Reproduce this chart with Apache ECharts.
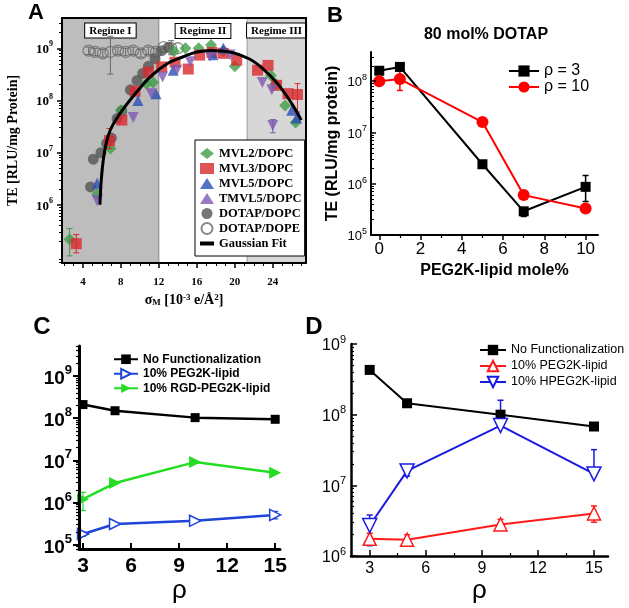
<!DOCTYPE html>
<html><head><meta charset="utf-8">
<script src="https://cdn.jsdelivr.net/npm/echarts@6/dist/echarts.min.js"></script>
<style>html,body{margin:0;padding:0;background:#fff}#c{width:629px;height:608px}</style>
</head><body><div id="c"></div>
<script>
// ---------------- Panel A data ----------------
const aXTicks = [4, 8, 12, 16, 20, 24];
const aXMinor = [2,3,5,6,7,9,10,11,13,14,15,17,18,19,21,22,23,25,26,27];
const aYTicks = [1e6, 1e7, 1e8, 1e9];
const aDecades = [4, 5, 6, 7, 8, 9];
const aRegimes = ['Regime I', 'Regime II', 'Regime III'];
const aRegimeEdges = [1.8, 12, 21.3, 27.5];

const mvl2X = [2.6, 5.5, 6.9, 8.0, 10.7, 11.4, 13.6, 14.8, 16.2, 17.5, 18.8, 20.0, 23.8, 24.3, 25.3, 26.4];
const mvl2Y = [2.2e5, 1.6e6, 1.2e7, 6.5e7, 2.1e8, 2.2e8, 8.8e8, 1.0e9, 1.0e9, 1.15e9, 9.0e8, 4.5e8, 3.0e8, 2.1e8, 8.0e7, 3.8e7];
const mvl3X = [3.3, 6.8, 8.1, 9.5, 10.9, 12.3, 13.7, 15.1, 16.3, 17.6, 18.8, 20.2, 22.4, 23.5, 24.4, 25.6, 26.6];
const mvl3Y = [1.8e5, 1.7e7, 4.2e7, 1.5e8, 3.5e8, 4.4e8, 5.4e8, 4.0e8, 7.4e8, 8.3e8, 8.0e8, 5.9e8, 3.8e8, 4.7e8, 1.95e8, 1.35e8, 1.3e8];
const mvl5X = [5.5, 9.8, 11.7, 13.5, 17.7, 18.8, 26.0, 26.5];
const mvl5Y = [2.6e6, 1.0e8, 1.35e8, 3.8e8, 7.5e8, 1.0e9, 6.5e7, 4.6e7];
const tmvl5X = [5.5, 9.3, 11.2, 12.4, 13.9, 15.3, 17.4, 19.5, 22.9, 23.9, 24.0];
const tmvl5Y = [1.2e6, 4.7e7, 1.35e8, 2.8e8, 3.8e8, 5.5e8, 7.0e8, 7.4e8, 2.2e8, 1.6e8, 3.3e7];
const dopcX = [4.8, 5.1, 5.9, 6.5, 7.0, 7.6, 8.1, 9.0, 9.7, 10.3, 10.9, 11.6, 12.3, 13.0];
const dopcY = [2.2e6, 7.5e6, 1.0e7, 1.5e7, 1.9e7, 4.5e7, 6.3e7, 1.6e8, 2.4e8, 3.3e8, 4.5e8, 6.3e8, 9.0e8, 1.05e9];
const dopeX = [4.6, 5.3, 6.1, 6.9, 7.7, 8.5, 9.3, 10.1, 10.9, 11.7, 12.5, 13.3, 14.0];
const dopeY = [9.0e8, 8.5e8, 8.0e8, 8.5e8, 9.0e8, 8.5e8, 9.0e8, 8.0e8, 9.0e8, 8.5e8, 1.05e9, 1.0e9, 1.0e9];
const fitX = [5.8, 5.95, 6.3, 6.85, 7.9, 9.6, 11.2, 13.0, 14.5, 16.0, 17.5, 19.5, 21.5, 23.0, 24.5, 26.0, 27.0];
const fitY = [1.0e6, 3.2e6, 1.1e7, 2.6e7, 5.6e7, 1.4e8, 2.95e8, 5.2e8, 6.8e8, 8.5e8, 9.1e8, 8.5e8, 6.3e8, 4.0e8, 2.1e8, 8.7e7, 4.2e7];
const aErrMvl2 = [[2.6, 1.05e5, 3.5e5]];
const aErrMvl3 = [[3.3, 1.2e5, 2.7e5], [6.8, 1.2e7, 2.9e7], [26.6, 6.0e7, 2.1e8]];
const aErrTmvl5 = [[24.0, 2.4e7, 4.3e7]];
const aErrDope = [[4.6, 7.6e8, 1.05e9], [5.3, 7.2e8, 1.0e9], [6.1, 6.8e8, 9.5e8], [6.9, 3.2e8, 1.7e9], [7.7, 7.6e8, 1.05e9], [8.5, 7.2e8, 1.0e9], [9.3, 7.6e8, 1.05e9], [10.1, 6.8e8, 9.5e8], [10.9, 7.6e8, 1.05e9], [11.7, 7.2e8, 1.0e9], [13.3, 7.5e8, 1.4e9]];

// ---------------- Panel B data ----------------
const bTitle = '80 mol% DOTAP';
const bXTicks = [0, 2, 4, 6, 8, 10];
const bXMinor = [1, 3, 5, 7, 9];
const bYTicks = [1e5, 1e6, 1e7, 1e8];
const bDecades = [5, 6, 7, 8];
const bX = [0, 1, 5, 7, 10];
const bRho3 = [1.6e8, 1.9e8, 2.4e6, 2.9e5, 8.7e5];
const bRho10 = [1.0e8, 1.1e8, 1.6e7, 6.0e5, 3.3e5];
const bErrRho3 = [[5, 2.1e6, 2.8e6], [7, 2.3e5, 3.4e5], [10, 4.5e5, 1.45e6]];
const bErrRho10 = [[1, 6.6e7, 1.6e8], [10, 2.9e5, 3.7e5]];

// ---------------- Panel C data ----------------
const cXTicks = [3, 6, 9, 12, 15];
const cYTicks = [1e5, 1e6, 1e7, 1e8, 1e9];
const cDecades = [4, 5, 6, 7, 8, 9];
const cX = [3, 5, 10, 15];
const cNoFunc = [2.1e8, 1.5e8, 1.03e8, 9.4e7];
const cPeg = [1.8e5, 3.1e5, 3.7e5, 5.1e5];
const cRgd = [1.2e6, 2.9e6, 9.1e6, 5.1e6];
const cErrPeg = [[3, 1.6e5, 2.0e5], [15, 4.1e5, 6.2e5]];
const cErrRgd = [[3, 6.5e5, 1.75e6]];

// ---------------- Panel D data ----------------
const dXTicks = [3, 6, 9, 12, 15];
const dXMinor = [4.5, 7.5, 10.5, 13.5];
const dYTicks = [1e6, 1e7, 1e8, 1e9];
const dDecades = [6, 7, 8];
const dX = [3, 5, 10, 15];
const dNoFunc = [4.3e8, 1.45e8, 1.0e8, 6.8e7];
const dPeg = [1.75e6, 1.7e6, 2.8e6, 4.0e6];
const dHpeg = [2.7e6, 1.6e7, 7.0e7, 1.45e7];
const dErrNoFunc = [[15, 6.2e7, 7.6e7]];
const dErrPeg = [[3, 1.45e6, 2.1e6], [5, 1.45e6, 2.0e6], [10, 2.4e6, 3.3e6], [15, 3.0e6, 5.1e6]];
const dErrHpeg = [[3, 1.4e6, 3.8e6], [5, 1.35e7, 1.9e7], [10, 7.0e7, 1.6e8], [15, 1.45e7, 3.2e7]];

// ---------------- helpers ----------------
const SANS = '"Liberation Sans", Arial, sans-serif';
const SERIF = '"Liberation Serif", "Times New Roman", serif';
const zip = (xs, ys) => xs.map((x, i) => [x, ys[i]]);
function logMinor(decades) {
  const out = [];
  decades.forEach(e => { for (let k = 2; k <= 9; k++) out.push(k * Math.pow(10, e)); });
  return out;
}
function powLabel(fs, ss, lh, weight, family, margin, ticks) {
  return {
    customValues: ticks, margin: margin,
    formatter: v => '{b|10}{s|' + Math.round(Math.log10(v)) + '}',
    fontSize: fs, fontWeight: weight, fontFamily: family, color: '#000',
    rich: {
      b: { fontSize: fs, fontWeight: weight, fontFamily: family, color: '#000', lineHeight: lh, verticalAlign: 'bottom' },
      s: { fontSize: ss, fontWeight: weight, fontFamily: family, color: '#000', lineHeight: ss, verticalAlign: 'top' }
    }
  };
}
function errBar(cap, lw) {
  return function (params, api) {
    const x = api.value(0);
    const lo = api.coord([x, api.value(1)]);
    const hi = api.coord([x, api.value(2)]);
    const st = { stroke: api.visual('color'), lineWidth: lw, fill: null };
    return { type: 'group', children: [
      { type: 'line', shape: { x1: lo[0], y1: lo[1], x2: hi[0], y2: hi[1] }, style: st },
      { type: 'line', shape: { x1: lo[0] - cap, y1: lo[1], x2: lo[0] + cap, y2: lo[1] }, style: st },
      { type: 'line', shape: { x1: hi[0] - cap, y1: hi[1], x2: hi[0] + cap, y2: hi[1] }, style: st }
    ] };
  };
}
function errSeries(name, data, color, xi, yi, cap, lw, z) {
  return { name: name, type: 'custom', xAxisIndex: xi, yAxisIndex: yi, data: data,
    encode: { x: 0, y: [1, 2] }, itemStyle: { color: color }, renderItem: errBar(cap, lw), z: z || 3, silent: true };
}
const noSplit = { show: false };
const blackLine = w => ({ show: true, onZero: false, lineStyle: { color: '#000', width: w } });
function tickAxis(gi, type, min, max, pos, vals, len, inside, w) {
  return { gridIndex: gi, type: type, min: min, max: max, position: pos, z: 10,
    axisLine: { show: false, onZero: false }, splitLine: noSplit, axisLabel: { show: false },
    axisTick: { show: true, customValues: vals, length: len, inside: inside, lineStyle: { color: '#000', width: w } } };
}
function frameAxis(gi, pos, w) {
  return { gridIndex: gi, type: 'value', min: 0, max: 1, position: pos, z: 10, axisLine: blackLine(w),
    axisTick: { show: false }, axisLabel: { show: false }, splitLine: noSplit };
}

const aColors = { mvl2: '#3f9c46', mvl3: '#d8282d', mvl5: '#2c4fb6', tmvl5: '#7d59b3', dopc: '#555555', dope: '#6a6a6a' };
const aYMin = Math.pow(10, 4.885), aYMax = Math.pow(10, 9.58);

const option = {
  animation: false,
  backgroundColor: '#fff',
  grid: [
    { left: 62, top: 18, width: 244, height: 245 },
    { left: 371, top: 52, width: 227, height: 183 },
    { left: 79, top: 346, width: 201, height: 203 },
    { left: 351, top: 344, width: 257, height: 212 }
  ],
  xAxis: [
    // A
    { gridIndex: 0, type: 'value', min: 1.8, max: 27.5, position: 'bottom', z: 10, axisLine: blackLine(2), splitLine: noSplit,
      axisTick: { show: true, customValues: aXTicks, length: 5, lineStyle: { color: '#000', width: 1.5 } },
      axisLabel: { customValues: aXTicks, margin: 14, fontFamily: SERIF, fontWeight: 'bold', fontSize: 11, color: '#000' },
      name: 'σ{sub|M} [10{sup|-3} e/Å{sup|2}]', nameLocation: 'middle', nameGap: 30,
      nameTextStyle: { fontFamily: SERIF, fontWeight: 'bold', fontSize: 14, color: '#000',
        rich: { sub: { fontFamily: SERIF, fontWeight: 'bold', fontSize: 9, verticalAlign: 'bottom', color: '#000' },
                sup: { fontFamily: SERIF, fontWeight: 'bold', fontSize: 9, verticalAlign: 'top', color: '#000' } } } },
    tickAxis(0, 'value', 1.8, 27.5, 'bottom', aXMinor, 3, false, 1),
    frameAxis(0, 'top', 2),
    // B
    { gridIndex: 1, type: 'value', min: -0.4, max: 10.6, position: 'bottom', z: 10, axisLine: blackLine(2), splitLine: noSplit,
      axisTick: { show: true, customValues: bXTicks, length: 5, lineStyle: { color: '#000', width: 1.5 } },
      axisLabel: { customValues: bXTicks, margin: 6, fontFamily: SANS, fontSize: 17, color: '#000' },
      name: 'PEG2K-lipid mole%', nameLocation: 'middle', nameGap: 28,
      nameTextStyle: { fontFamily: SANS, fontWeight: 'bold', fontSize: 16, color: '#000', padding: [0, 0, 0, 20] } },
    tickAxis(1, 'value', -0.4, 10.6, 'bottom', bXMinor, 3, false, 1.2),
    // C
    { gridIndex: 2, type: 'value', min: 2.75, max: 15.3, position: 'bottom', z: 10, axisLine: blackLine(3), splitLine: noSplit,
      axisTick: { show: true, customValues: cXTicks, length: 6, inside: true, lineStyle: { color: '#000', width: 2 } },
      axisLabel: { customValues: cXTicks, margin: 7, fontFamily: SANS, fontWeight: 'bold', fontSize: 21, color: '#000' },
      name: 'ρ', nameLocation: 'middle', nameGap: 22,
      nameTextStyle: { fontFamily: SANS, fontSize: 26, color: '#000' } },
    // D
    { gridIndex: 3, type: 'value', min: 2, max: 15.75, position: 'bottom', z: 10, axisLine: blackLine(2.5), splitLine: noSplit,
      axisTick: { show: true, customValues: dXTicks, length: 6, inside: true, lineStyle: { color: '#000', width: 1.5 } },
      axisLabel: { customValues: dXTicks, margin: 5, fontFamily: SANS, fontSize: 16, color: '#000' },
      name: 'ρ', nameLocation: 'middle', nameGap: 21,
      nameTextStyle: { fontFamily: SANS, fontSize: 26, color: '#000' } },
    tickAxis(3, 'value', 2, 15.75, 'bottom', dXMinor, 3, true, 1.2)
  ],
  yAxis: [
    // A
    { gridIndex: 0, type: 'log', logBase: 10, min: aYMin, max: aYMax, position: 'left', z: 10, axisLine: blackLine(2), splitLine: noSplit,
      axisTick: { show: true, customValues: aYTicks, length: 5, lineStyle: { color: '#000', width: 1.5 } },
      axisLabel: powLabel(13, 8, 16, 'bold', SERIF, 9, aYTicks),
      name: 'TE [RLU/mg Protein]', nameLocation: 'middle', nameGap: 42,
      nameTextStyle: { fontFamily: SERIF, fontWeight: 'bold', fontSize: 14, color: '#000' } },
    tickAxis(0, 'log', aYMin, aYMax, 'left', logMinor(aDecades), 3, false, 1),
    frameAxis(0, 'right', 2),
    // B
    { gridIndex: 1, type: 'log', logBase: 10, min: 1e5, max: Math.pow(10, 8.57), position: 'left', z: 10, axisLine: blackLine(2), splitLine: noSplit,
      axisTick: { show: true, customValues: bYTicks, length: 5, inside: true, lineStyle: { color: '#000', width: 1.5 } },
      axisLabel: powLabel(13, 9, 16, 'normal', SANS, 4, bYTicks),
      name: 'TE (RLU/mg protein)', nameLocation: 'middle', nameGap: 30,
      nameTextStyle: { fontFamily: SANS, fontWeight: 'bold', fontSize: 16, color: '#000' } },
    tickAxis(1, 'log', 1e5, Math.pow(10, 8.57), 'left', logMinor(bDecades), 3, true, 1),
    // C
    { gridIndex: 2, type: 'log', logBase: 10, min: Math.pow(10, 4.9), max: Math.pow(10, 9.71), position: 'left', z: 10, axisLine: blackLine(3), splitLine: noSplit,
      axisTick: { show: true, customValues: cYTicks, length: 6, lineStyle: { color: '#000', width: 2 } },
      axisLabel: powLabel(19, 13, 24, 'bold', SANS, 7, cYTicks) },
    tickAxis(2, 'log', Math.pow(10, 4.9), Math.pow(10, 9.71), 'left', logMinor(cDecades), 3, false, 1.2),
    // D
    { gridIndex: 3, type: 'log', logBase: 10, min: 1e6, max: 1e9, position: 'left', z: 10, axisLine: blackLine(2.5), splitLine: noSplit,
      axisTick: { show: true, customValues: dYTicks, length: 6, inside: true, lineStyle: { color: '#000', width: 1.5 } },
      axisLabel: powLabel(16, 11, 20, 'normal', SANS, 5, dYTicks) },
    tickAxis(3, 'log', 1e6, 1e9, 'left', logMinor(dDecades), 3, true, 1.2)
  ],
  legend: [
    { data: ['MVL2/DOPC', 'MVL3/DOPC', 'MVL5/DOPC', 'TMVL5/DOPC', 'DOTAP/DOPC', 'DOTAP/DOPE',
             { name: 'Gaussian Fit', icon: 'path://M0,0L14,0L14,4L0,4Z', symbolKeepAspect: true }],
      orient: 'vertical', left: 195, top: 140, padding: [6, 3, 5, 5], itemGap: 0, itemWidth: 14, itemHeight: 11,
      backgroundColor: '#fff', borderColor: '#000', borderWidth: 1, selectedMode: false,
      textStyle: { fontFamily: SERIF, fontWeight: 'bold', fontSize: 12.5, lineHeight: 15, color: '#000' } },
    { data: ['ρ = 3', 'ρ = 10'], orient: 'vertical', left: 508, top: 63, padding: 0, itemGap: 0, itemWidth: 30, itemHeight: 14,
      selectedMode: false, textStyle: { fontFamily: SANS, fontSize: 16, lineHeight: 16, color: '#000' } },
    { data: ['No Functionalization', '10% PEG2K-lipid', '10% RGD-PEG2K-lipid'], orient: 'vertical', left: 113, top: 352, padding: 0,
      itemGap: 0, itemWidth: 24, itemHeight: 12, selectedMode: false,
      textStyle: { fontFamily: SANS, fontWeight: 'bold', fontSize: 12, lineHeight: 14.5, color: '#000' } },
    { data: ['No Functionalization ', '10% PEG2K-lipid ', '10% HPEG2K-lipid'], orient: 'vertical', left: 479, top: 342, padding: 0,
      itemGap: 0, itemWidth: 26, itemHeight: 13, selectedMode: false,
      textStyle: { fontFamily: SANS, fontSize: 12.5, lineHeight: 16, color: '#000' } }
  ],
  graphic: [
    { type: 'text', x: 36, y: 13, style: { text: 'A', fontFamily: SANS, fontWeight: 'bold', fontSize: 22, fill: '#000', align: 'center', verticalAlign: 'middle' } },
    { type: 'text', x: 335, y: 16, style: { text: 'B', fontFamily: SANS, fontWeight: 'bold', fontSize: 22, fill: '#000', align: 'center', verticalAlign: 'middle' } },
    { type: 'text', x: 42, y: 327, style: { text: 'C', fontFamily: SANS, fontWeight: 'bold', fontSize: 24, fill: '#000', align: 'center', verticalAlign: 'middle' } },
    { type: 'text', x: 314, y: 327, style: { text: 'D', fontFamily: SANS, fontWeight: 'bold', fontSize: 24, fill: '#000', align: 'center', verticalAlign: 'middle' } },
    { type: 'text', x: 486, y: 35, style: { text: bTitle, fontFamily: SANS, fontWeight: 'bold', fontSize: 16, fill: '#000', align: 'center', verticalAlign: 'middle' } }
  ],
  series: [
    // ---- A ----
    { name: 'regimes', type: 'scatter', xAxisIndex: 0, yAxisIndex: 0, data: [], z: 1, silent: true,
      markArea: { silent: true,
        label: { show: true, position: 'insideTop', distance: 6, fontFamily: SERIF, fontWeight: 'bold', fontSize: 11, color: '#000',
                 backgroundColor: '#fff', borderColor: '#000', borderWidth: 1, padding: [2, 4, 1, 4] },
        data: [
          [{ name: aRegimes[0], xAxis: aRegimeEdges[0], itemStyle: { color: '#bdbdbd', borderColor: '#888', borderWidth: 1 } }, { xAxis: aRegimeEdges[1] }],
          [{ name: aRegimes[1], xAxis: aRegimeEdges[1], itemStyle: { color: 'rgba(255,255,255,0)' } }, { xAxis: aRegimeEdges[2] }],
          [{ name: aRegimes[2], xAxis: aRegimeEdges[2], itemStyle: { color: '#d7d7d7', borderColor: '#999', borderWidth: 1 } }, { xAxis: aRegimeEdges[3] }]
        ] } },
    errSeries('errA1', aErrMvl2, aColors.mvl2, 0, 0, 3, 1),
    errSeries('errA2', aErrMvl3, aColors.mvl3, 0, 0, 3, 1),
    errSeries('errA3', aErrTmvl5, aColors.tmvl5, 0, 0, 3, 1),
    errSeries('errA4', aErrDope, aColors.dope, 0, 0, 3, 1),
    { name: 'DOTAP/DOPE', type: 'scatter', xAxisIndex: 0, yAxisIndex: 0, data: zip(dopeX, dopeY), symbol: 'circle', symbolSize: 11,
      itemStyle: { color: 'rgba(0,0,0,0)', borderColor: aColors.dope, borderWidth: 1.3 }, z: 2 },
    { name: 'DOTAP/DOPC', type: 'scatter', xAxisIndex: 0, yAxisIndex: 0, data: zip(dopcX, dopcY), symbol: 'circle', symbolSize: 11,
      itemStyle: { color: aColors.dopc }, z: 2 },
    { name: 'MVL2/DOPC', type: 'scatter', xAxisIndex: 0, yAxisIndex: 0, data: zip(mvl2X, mvl2Y), symbol: 'diamond', symbolSize: 12,
      itemStyle: { color: aColors.mvl2 }, z: 2 },
    { name: 'MVL3/DOPC', type: 'scatter', xAxisIndex: 0, yAxisIndex: 0, data: zip(mvl3X, mvl3Y), symbol: 'rect', symbolSize: 11,
      itemStyle: { color: aColors.mvl3 }, z: 2 },
    { name: 'MVL5/DOPC', type: 'scatter', xAxisIndex: 0, yAxisIndex: 0, data: zip(mvl5X, mvl5Y), symbol: 'triangle', symbolSize: 11,
      itemStyle: { color: aColors.mvl5 }, z: 2 },
    { name: 'TMVL5/DOPC', type: 'scatter', xAxisIndex: 0, yAxisIndex: 0, data: zip(tmvl5X, tmvl5Y), symbol: 'triangle', symbolRotate: 180, symbolSize: 11,
      itemStyle: { color: aColors.tmvl5 }, z: 2 },
    { name: 'Gaussian Fit', type: 'line', xAxisIndex: 0, yAxisIndex: 0, data: zip(fitX, fitY), smooth: 0.4, symbol: 'none',
      lineStyle: { color: '#000', width: 3 }, itemStyle: { color: '#000' }, z: 4 },
    // ---- B ----
    errSeries('errB1', bErrRho3, '#000', 3, 3, 3, 1.5, 2),
    errSeries('errB2', bErrRho10, '#ff0000', 3, 3, 3, 1.5, 2),
    { name: 'ρ = 3', type: 'line', xAxisIndex: 3, yAxisIndex: 3, data: zip(bX, bRho3), symbol: 'rect', symbolSize: 10,
      lineStyle: { color: '#000', width: 2 }, itemStyle: { color: '#000' }, z: 3 },
    { name: 'ρ = 10', type: 'line', xAxisIndex: 3, yAxisIndex: 3, data: zip(bX, bRho10), symbol: 'circle', symbolSize: 12,
      lineStyle: { color: '#ff0000', width: 2 }, itemStyle: { color: '#ff0000' }, z: 4 },
    // ---- C ----
    errSeries('errC1', cErrPeg, '#1f45d8', 5, 6, 3, 1.2, 2),
    errSeries('errC2', cErrRgd, '#22dd22', 5, 6, 3, 1.2, 2),
    { name: 'No Functionalization', type: 'line', xAxisIndex: 5, yAxisIndex: 6, data: zip(cX, cNoFunc), symbol: 'rect', symbolSize: 9,
      lineStyle: { color: '#000', width: 2.5 }, itemStyle: { color: '#000' }, z: 3 },
    { name: '10% PEG2K-lipid', type: 'line', xAxisIndex: 5, yAxisIndex: 6, data: zip(cX, cPeg), symbol: 'triangle', symbolRotate: -90, symbolSize: 11,
      lineStyle: { color: '#1f45d8', width: 2.5 }, itemStyle: { color: '#fff', borderColor: '#1f45d8', borderWidth: 1.5 }, z: 3 },
    { name: '10% RGD-PEG2K-lipid', type: 'line', xAxisIndex: 5, yAxisIndex: 6, data: zip(cX, cRgd), symbol: 'triangle', symbolRotate: -90, symbolSize: 12,
      lineStyle: { color: '#22dd22', width: 2.5 }, itemStyle: { color: '#22dd22' }, z: 3 },
    // ---- D ----
    errSeries('errD1', dErrNoFunc, '#000', 6, 8, 3, 1.5, 2),
    errSeries('errD2', dErrPeg, '#ff1a1a', 6, 8, 3, 1.5, 2),
    errSeries('errD3', dErrHpeg, '#1a1ae0', 6, 8, 3, 1.5, 2),
    { name: 'No Functionalization ', type: 'line', xAxisIndex: 6, yAxisIndex: 8, data: zip(dX, dNoFunc), symbol: 'rect', symbolSize: 10,
      lineStyle: { color: '#000', width: 2 }, itemStyle: { color: '#000' }, z: 3 },
    { name: '10% PEG2K-lipid ', type: 'line', xAxisIndex: 6, yAxisIndex: 8, data: zip(dX, dPeg), symbol: 'triangle', symbolSize: 13,
      lineStyle: { color: '#ff1a1a', width: 2 }, itemStyle: { color: '#fff', borderColor: '#ff1a1a', borderWidth: 1.5 }, z: 3 },
    { name: '10% HPEG2K-lipid', type: 'line', xAxisIndex: 6, yAxisIndex: 8, data: zip(dX, dHpeg), symbol: 'triangle', symbolRotate: 180, symbolSize: 14,
      lineStyle: { color: '#1a1ae0', width: 2 }, itemStyle: { color: '#fff', borderColor: '#1a1ae0', borderWidth: 1.5 }, z: 3 }
  ]
};
const chart = echarts.init(document.getElementById('c'), null, { renderer: 'canvas' });
chart.setOption(option);
</script></body></html>
